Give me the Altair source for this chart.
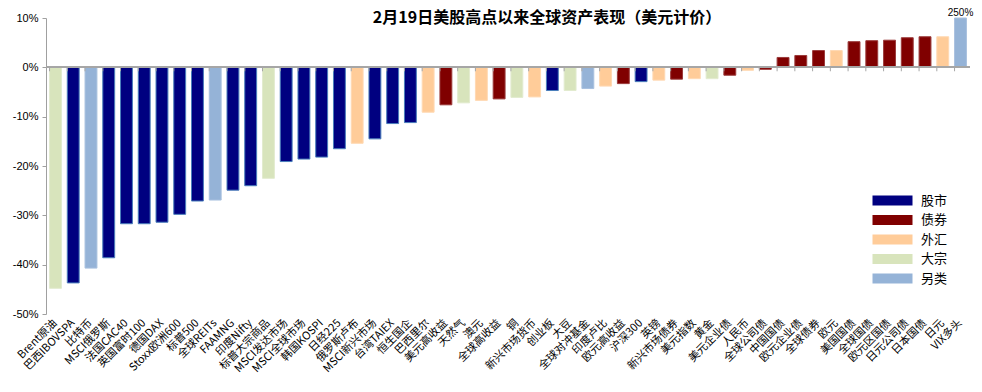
import altair as alt
import pandas as pd

categories = ["Brent原油", "巴西IBOVSPA", "比特币", "MSCI俄罗斯", "法国CAC40", "英国富时100", "德国DAX",
              "Stoxx欧洲600", "标普500", "全球REITs", "FAAMNG", "印度Nifty", "标普大宗商品", "MSCI发达市场",
              "MSCI全球市场", "韩国KOSPI", "日经225", "俄罗斯卢布", "MSCI新兴市场", "台湾TAIEX", "恒生国企",
              "巴西里尔", "美元高收益", "天然气", "澳元", "全球高收益", "铜", "新兴市场货币", "创业板", "大豆",
              "全球对冲基金", "印度卢比", "欧元高收益", "沪深300", "英镑", "新兴市场债券", "美元指数", "黄金",
              "美元企业债", "人民币", "全球公司债", "中国国债", "欧元企业债", "全球债券", "欧元", "美国国债",
              "全球国债", "欧元区国债", "日元公司债", "日本国债", "日元", "VIX多头"]
values = [-44.8, -43.7, -40.7, -38.6, -31.7, -31.7, -31.4, -29.8, -27.1, -26.9, -24.9, -24.0, -22.5, -19.1,
          -18.6, -18.2, -16.5, -15.4, -14.5, -11.4, -11.2, -9.1, -7.6, -7.2, -6.7, -6.4, -6.1, -6.0, -4.7, -4.7,
          -4.3, -3.8, -3.3, -2.9, -2.6, -2.4, -2.3, -2.3, -1.6, -0.6, -0.4, 2.0, 2.4, 3.4, 3.4, 5.2,
          5.4, 5.5, 6.0, 6.2, 6.2, 250.0]
types = ["大宗", "股市", "另类", "股市", "股市", "股市", "股市", "股市", "股市", "另类", "股市", "股市", "大宗", "股市",
         "股市", "股市", "股市", "外汇", "股市", "股市", "股市", "外汇", "债券", "大宗", "外汇", "债券", "大宗", "外汇",
         "股市", "大宗", "另类", "外汇", "债券", "股市", "外汇", "债券", "外汇", "大宗", "债券", "外汇", "债券", "债券",
         "债券", "债券", "外汇", "债券", "债券", "债券", "债券", "债券", "外汇", "另类"]
bar_notes = {"VIX多头": "250%"}

type_order = ["股市", "债券", "外汇", "大宗", "另类"]
type_colors = ["#000080", "#800000", "#FFCC99", "#D8E4BC", "#95B3D7"]
type_strokes = ["#4A7EBB", "#9B3B3B", "#FFD9B3", "#E2EBCF", "#A9C1DF"]
y_ticks = [10, 0, -10, -20, -30, -40, -50]
title_text = "2月19日美股高点以来全球资产表现（美元计价）"

df = pd.DataFrame({"cat": categories, "val": values, "type": types})
df["note"] = df["cat"].map(bar_notes).fillna("")

CJK = "Noto Sans CJK SC"

xenc = alt.X("cat:N", sort=None,
             scale=alt.Scale(paddingInner=0.33, paddingOuter=0.2),
             axis=alt.Axis(title=None, labelAngle=-45, labelAlign="right", labelBaseline="middle",
                           domain=False, ticks=False, labelPadding=7, labelFont=CJK,
                           labelFontSize=11, labelColor="#000000", labelOverlap=False))
yscale = alt.Scale(domain=[-50, 10], nice=False, zero=False, clamp=True)
yenc = alt.Y("val:Q", scale=yscale,
             axis=alt.Axis(title=None, values=y_ticks, labelExpr="datum.value + '%'", grid=False,
                           domainColor="#A0A0A0", tickColor="#A0A0A0", tickSize=4, labelPadding=4,
                           labelFont="Liberation Sans", labelFontSize=11, labelColor="#000000"))

base = alt.Chart(df)

bars = base.mark_bar(strokeWidth=1).encode(
    x=xenc,
    y=yenc,
    color=alt.Color("type:N", scale=alt.Scale(domain=type_order, range=type_colors),
                    legend=alt.Legend(title=None, orient="none", legendX=840, legendY=176,
                                      symbolType="M-4,-1H4V1H-4Z", symbolSize=100,
                                      symbolStrokeWidth=0, rowPadding=5.5, labelOffset=22,
                                      labelFont=CJK, labelFontSize=13, labelColor="#000000",
                                      padding=0)),
    stroke=alt.Stroke("type:N", scale=alt.Scale(domain=type_order, range=type_strokes), legend=None),
)

zero = alt.Chart(df).mark_rule(color="#A6A6A6", strokeWidth=1.5).encode(y=alt.datum(0))

ticks = base.mark_rule(color="#A6A6A6", strokeWidth=1).encode(
    x=alt.X("cat:N", sort=None, bandPosition=0),
    y=alt.datum(0),
    y2=alt.datum(-0.8),
)

notes = base.transform_filter("datum.note != ''").mark_text(
    dy=-5, fontSize=10, font="Liberation Sans", color="#000000").encode(
    x=alt.X("cat:N", sort=None), y=alt.Y("val:Q", scale=yscale), text="note:N")

title = alt.Chart(pd.DataFrame({"t": [title_text]})).mark_text(
    font=CJK, fontSize=16, fontWeight="bold", color="#000000", align="center", baseline="middle"
).encode(x=alt.value(501), y=alt.value(0), text="t:N")

chart = alt.layer(bars, zero, ticks, notes, title).properties(
    width=924, height=296,
    autosize=alt.AutoSizeParams(type="none"),
    padding={"left": 38, "top": 10, "right": 4, "bottom": 70},
).configure_view(stroke=None)

chart.save("out.html", embed_options={"renderer": "svg", "actions": False})
